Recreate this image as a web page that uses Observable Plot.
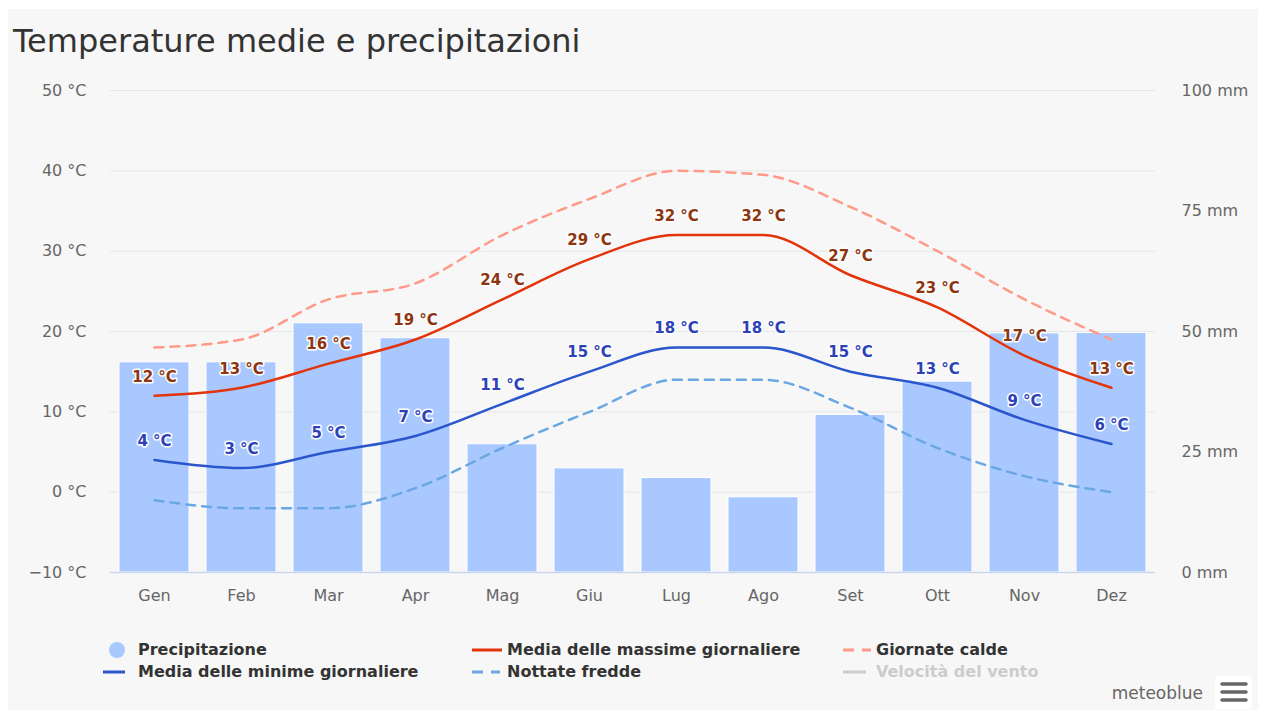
<!DOCTYPE html>
<html>
<head>
<meta charset="utf-8">
<script src="https://cdn.jsdelivr.net/npm/d3@7"></script>
<script src="https://cdn.jsdelivr.net/npm/@observablehq/plot@0.6"></script>
<style>
  html, body { margin: 0; padding: 0; background: #ffffff; }
  body { width: 1261px; height: 713px; position: relative; overflow: hidden; font-family: "DejaVu Sans", sans-serif; }
  #panel { position: absolute; left: 8px; top: 9px; width: 1250px; height: 701px; background: #f7f7f7; }
  #title { position: absolute; left: 13px; top: 21px; font-size: 32px; line-height: 40px; color: #333333; white-space: nowrap; }
  #chart { position: absolute; left: 0; top: 70px; }
  .lg { position: absolute; font-size: 16px; font-weight: bold; color: #333333; white-space: nowrap; line-height: 22px; }
  #brand { position: absolute; left: 1040px; width: 163px; text-align: right; top: 681px; font-size: 17px; line-height: 24px; color: #666666; }
</style>
</head>
<body>
<div id="panel"></div>
<div id="title">Temperature medie e precipitazioni</div>
<div id="chart"></div>

<svg id="legend" width="1261" height="83" style="position:absolute;left:0;top:630px">
  <circle cx="117" cy="20" r="8" fill="#a8c8ff"></circle>
  <line x1="472" x2="502" y1="20" y2="20" stroke="#e2330b" stroke-width="3"></line>
  <line x1="843" x2="871" y1="20" y2="20" stroke="#ff9a88" stroke-width="3" stroke-dasharray="11,8"></line>
  <line x1="103" x2="125" y1="42" y2="42" stroke="#2a55cc" stroke-width="3"></line>
  <line x1="472" x2="500" y1="42" y2="42" stroke="#6aa8e4" stroke-width="3" stroke-dasharray="11,8"></line>
  <line x1="843" x2="866" y1="42" y2="42" stroke="#cccccc" stroke-width="3"></line>
  <rect x="1215" y="46" width="37" height="33" rx="3" fill="#ffffff"></rect>
  <line x1="1222" x2="1246" y1="54" y2="54" stroke="#666" stroke-width="3.5" stroke-linecap="round"></line>
  <line x1="1222" x2="1246" y1="62" y2="62" stroke="#666" stroke-width="3.5" stroke-linecap="round"></line>
  <line x1="1222" x2="1246" y1="70" y2="70" stroke="#666" stroke-width="3.5" stroke-linecap="round"></line>
</svg>
<div class="lg" style="left:138px;top:639px">Precipitazione</div>
<div class="lg" style="left:507px;top:639px">Media delle massime giornaliere</div>
<div class="lg" style="left:876px;top:639px">Giornate calde</div>
<div class="lg" style="left:138px;top:661px">Media delle minime giornaliere</div>
<div class="lg" style="left:507px;top:661px">Nottate fredde</div>
<div class="lg" style="left:876px;top:661px;color:#cccccc">Velocità del vento</div>
<div id="brand">meteoblue</div>

<script>
// ---- data ----
const months = ["Gen", "Feb", "Mar", "Apr", "Mag", "Giu", "Lug", "Ago", "Set", "Ott", "Nov", "Dez"];
const precipitation = [43.6, 43.6, 51.7, 48.6, 26.6, 21.6, 19.6, 15.6, 32.7, 39.6, 49.6, 49.7]; // mm
const tempMax = [12, 13, 16, 19, 24, 29, 32, 32, 27, 23, 17, 13];
const tempMin = [4, 3, 5, 7, 11, 15, 18, 18, 15, 13, 9, 6];
const hotDays = [18, 19, 24, 26, 32, 36.5, 40, 39.5, 35.5, 30, 24, 19];
const coldNights = [-1, -2, -2, 0.5, 5.5, 10, 14, 14, 10.5, 5.5, 2, 0];
const tempTicks = [-10, 0, 10, 20, 30, 40, 50];
const mmTicks = [0, 25, 50, 75, 100];

// secondary axis: 0–100 mm shares the plot height with −10–50 °C
const tempDomain = [-10, 50];
const mmDomain = [0, 100];
const mmToTemp = d3.scaleLinear().domain(mmDomain).range(tempDomain);

const table = months.map((m, i) => ({
  month: m,
  mm: precipitation[i],
  max: tempMax[i],
  min: tempMin[i],
  hot: hotDays[i],
  cold: coldNights[i]
}));

const fmtNum = d3.format("d");

const chart = Plot.plot({
  width: 1261,
  height: 550,
  marginTop: 20,
  marginBottom: 48,
  marginLeft: 110,
  marginRight: 106,
  style: { background: "transparent", fontFamily: "DejaVu Sans, sans-serif", fontSize: "16px", color: "#666666" },
  x: { type: "band", domain: months, paddingInner: 0.2, paddingOuter: 0.1, label: null },
  y: { domain: tempDomain, label: null },
  marks: [
    Plot.ruleY(tempTicks.slice(1), { stroke: "#e6e6e6", strokeWidth: 1 }),
    Plot.barY(table, {
      x: "month",
      y1: () => tempDomain[0],
      y2: d => mmToTemp(d.mm),
      fill: "#a8c8ff",
      stroke: "#ffffff",
      strokeWidth: 1
    }),
    Plot.ruleY([tempDomain[0]], { stroke: "#ccd6eb", strokeWidth: 1.5 }),
    Plot.line(table, { x: "month", y: "hot", stroke: "#ff9a88", strokeWidth: 2.5, strokeDasharray: "9,7", curve: "monotone-x" }),
    Plot.line(table, { x: "month", y: "cold", stroke: "#6aa8e4", strokeWidth: 2.5, strokeDasharray: "9,7", curve: "monotone-x" }),
    Plot.line(table, { x: "month", y: "max", stroke: "#e2330b", strokeWidth: 2.5, curve: "monotone-x" }),
    Plot.line(table, { x: "month", y: "min", stroke: "#2a55cc", strokeWidth: 2.5, curve: "monotone-x" }),
    Plot.text(table, {
      x: "month", y: "max", text: d => `${d.max} °C`, dy: -19,
      fill: "#8c3510", stroke: "#ffffff", strokeWidth: 3, fontWeight: "bold", fontSize: 15
    }),
    Plot.text(table, {
      x: "month", y: "min", text: d => `${d.min} °C`, dy: -19,
      fill: "#2d41b8", stroke: "#ffffff", strokeWidth: 3, fontWeight: "bold", fontSize: 15
    }),
    Plot.axisY(tempTicks, {
      anchor: "left", tickSize: 0, tickPadding: 24,
      tickFormat: d => `${fmtNum(d)} °C`, fontSize: 16, fill: "#666666"
    }),
    Plot.axisY(mmTicks.map(v => mmToTemp(v)), {
      anchor: "right", tickSize: 0, tickPadding: 26,
      tickFormat: t => `${Math.round(mmToTemp.invert(t))} mm`, fontSize: 16, fill: "#666666"
    }),
    Plot.axisX({ tickSize: 0, tickPadding: 17, fontSize: 16, fill: "#666666" })
  ]
});
document.getElementById("chart").appendChild(chart);
</script>
</body>
</html>
